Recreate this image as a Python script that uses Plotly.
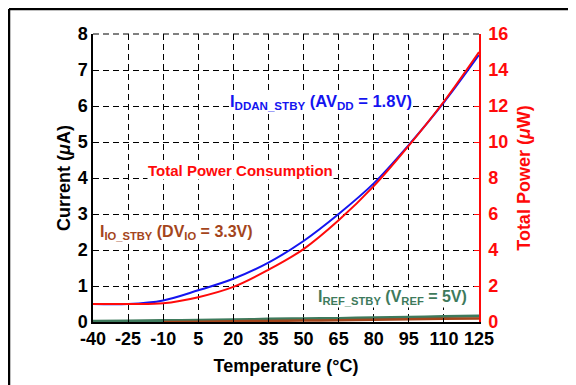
import plotly.graph_objects as go

# temperature (°C)
temps = [-40, -25, -10, 5, 20, 35, 50, 65, 80, 95, 110, 125]

# left axis currents (µA)
i_ddan = [0.50, 0.50, 0.60, 0.88, 1.20, 1.65, 2.25, 3.00, 3.85, 4.92, 6.10, 7.42]
i_ref = [0.02, 0.03, 0.04, 0.05, 0.06, 0.08, 0.09, 0.10, 0.12, 0.13, 0.15, 0.17]
i_io = [None, None, 0.0, 0.01, 0.02, 0.03, 0.04, 0.05, 0.06, 0.075, 0.09, 0.10]

# right axis total power (µW)
p_total = [1.00, 1.00, 1.04, 1.38, 1.95, 2.90, 4.05, 5.65, 7.55, 9.80, 12.25, 15.0]

x_ticks = [-40, -25, -10, 5, 20, 35, 50, 65, 80, 95, 110, 125]
x_labels = ["-40", "-25", "-10", "5", "20", "35", "50", "65", "80", "95", "110", "125"]

BLUE = "#1414F0"
RED = "#FF0A0A"
BROWN = "#A4451B"
GREEN = "#3E7A5C"
FONT = "Liberation Sans, Arial, sans-serif"
DASH = "6px,4px"

fig = go.Figure()
fig.add_trace(go.Scatter(x=temps, y=i_ref, mode="lines", line=dict(color=GREEN, width=3, shape="spline")))
fig.add_trace(go.Scatter(x=temps, y=i_io, mode="lines", line=dict(color=BROWN, width=2.5, shape="spline")))
fig.add_trace(go.Scatter(x=temps, y=i_ddan, mode="lines", line=dict(color=BLUE, width=2, shape="spline")))
fig.add_trace(go.Scatter(x=temps, y=p_total, mode="lines", yaxis="y2",
                         line=dict(color=RED, width=2, shape="spline")))

# page body has an 8px margin, so the figure is a bit smaller than the window
fig.update_layout(
    width=568, height=377,
    margin=dict(l=85, r=97, t=26, b=63),
    plot_bgcolor="white", paper_bgcolor="white",
    showlegend=False,
    font=dict(family=FONT, color="black"),
    xaxis=dict(
        range=[-40, 125], tickvals=x_ticks, ticktext=x_labels, showgrid=True,
        gridcolor="black", griddash=DASH, gridwidth=1,
        showline=True, linecolor="black", linewidth=1.5,
        ticks="inside", ticklen=4, tickcolor="black",
        tickfont=dict(size=18, family=FONT, weight="bold"),
        title=dict(text="<b>Temperature (°C)</b>", font=dict(size=18), standoff=11),
        zeroline=False, automargin=False,
    ),
    yaxis=dict(
        range=[0, 8], dtick=1, showgrid=True,
        gridcolor="black", griddash=DASH, gridwidth=1,
        showline=True, linecolor="black", linewidth=1.5,
        ticks="inside", ticklen=4, tickcolor="black",
        tickfont=dict(size=18, family=FONT, weight="bold"),
        title=dict(text="<b>Current (<i>μ</i>A)</b>", font=dict(size=18), standoff=2),
        zeroline=False, automargin=False,
    ),
    yaxis2=dict(
        range=[0, 16], dtick=2, overlaying="y", side="right",
        showgrid=False, zeroline=False,
        showline=True, linecolor=RED, linewidth=1.5,
        ticks="inside", ticklen=5, tickcolor=RED,
        tickfont=dict(size=18, family=FONT, color=RED, weight="bold"),
        ticklabelstandoff=4,
        title=dict(text="<b>Total Power (<i>μ</i>W)</b>", font=dict(size=18, color=RED), standoff=10),
        automargin=False,
    ),
)

# top edge of the plot area is a dashed grid line
fig.add_shape(type="line", xref="paper", yref="paper", x0=0, x1=1, y0=1, y1=1,
              line=dict(color="black", width=1, dash=DASH))

# frame around the figure (left and top edges visible)
fig.add_shape(type="line", xref="paper", yref="paper", x0=-0.2176, x1=-0.2176, y0=-0.5, y1=1.087,
              line=dict(color="black", width=2.5))
fig.add_shape(type="line", xref="paper", yref="paper", x0=-0.2176, x1=1.6, y0=1.087, y1=1.087,
              line=dict(color="black", width=2.5))

labels = [
    ("<b>I<sub>DDAN_STBY</sub> (AV<sub>DD</sub> = 1.8V)</b>", 57.5, 6.1, BLUE, 16.5),
    ("<b>Total Power Consumption</b>", 23, 4.22, RED, 15),
    ("<b>I<sub>IO_STBY</sub> (DV<sub>IO</sub> = 3.3V)</b>", -4.5, 2.5, BROWN, 16),
    ("<b>I<sub>REF_STBY</sub> (V<sub>REF</sub> = 5V)</b>", 88, 0.68, GREEN, 16),
]
for text, x, y, color, size in labels:
    fig.add_annotation(x=x, y=y, xref="x", yref="y", text=text, showarrow=False,
                       font=dict(color=color, size=size, family=FONT),
                       bgcolor="white", borderpad=0)

fig.write_html("out.html")
